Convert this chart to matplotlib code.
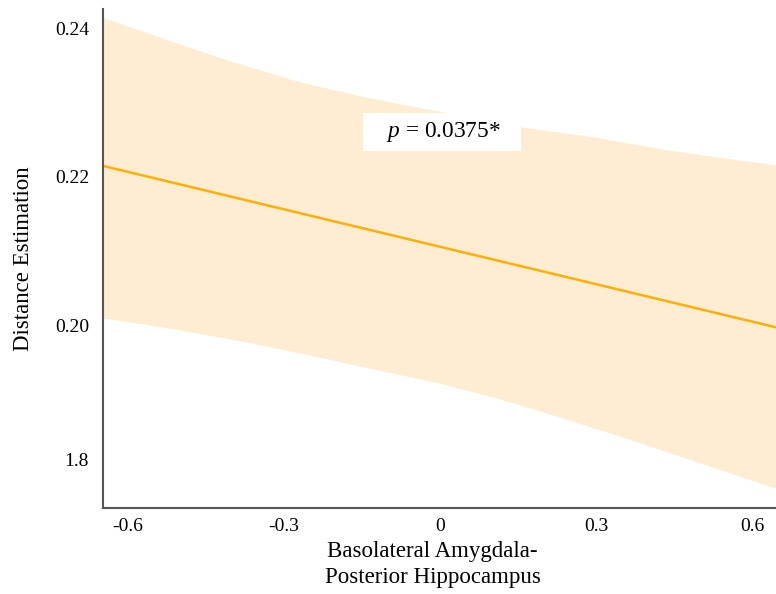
import matplotlib
matplotlib.use("Agg")
import matplotlib.pyplot as plt

plt.rcParams['font.family'] = ['Liberation Serif', 'DejaVu Serif']
plt.rcParams['mathtext.fontset'] = 'custom'
plt.rcParams['mathtext.rm'] = 'Liberation Serif'
plt.rcParams['mathtext.it'] = 'Liberation Serif:italic'

# --- data ---
x_fit = [-0.647, 0.645]
y_fit = [0.2215, 0.1997]

# confidence band, upper and lower edge (read separately)
x_upper = [-0.647, -0.524, -0.397, -0.269, -0.140, 0.0, 0.167, 0.301, 0.428, 0.557, 0.645]
band_upper = [0.2415, 0.2385, 0.2355, 0.2328, 0.2307, 0.2288, 0.2266, 0.2253, 0.2237, 0.2224, 0.2216]
x_lower = [-0.647, -0.524, -0.397, -0.269, -0.140, 0.0, 0.109, 0.236, 0.365, 0.493, 0.645]
band_lower = [0.2009, 0.1996, 0.1980, 0.1962, 0.1942, 0.1921, 0.1901, 0.1874, 0.1845, 0.1815, 0.1779]

x_ticks = [-0.6, -0.3, 0, 0.3, 0.6]
x_ticklabels = ['-0.6', '-0.3', '0', '0.3', '0.6']
y_ticks = [0.24, 0.22, 0.20, 0.1818]
y_ticklabels = ['0.24', '0.22', '0.20', '1.8']

p_text = r'   $p$ = 0.0375*   '

# --- figure ---
fig = plt.figure(figsize=(7.76, 5.94), dpi=100)
ax = fig.add_axes([0.1327, 0.1448, 0.8673, 0.8402])

ax.fill(x_upper + x_lower[::-1], band_upper + band_lower[::-1],
        color='#FEEDD3', linewidth=0)
ax.plot(x_fit, y_fit, color='#FFB000', linewidth=1.8)

ax.set_xlim(-0.647, 0.645)
ax.set_ylim(0.1753, 0.2427)

ax.set_xticks(x_ticks)
ax.set_xticklabels(x_ticklabels)
ax.set_yticks(y_ticks)
ax.set_yticklabels(y_ticklabels)
ax.tick_params(axis='both', length=0, labelsize=14)
ax.tick_params(axis='y', pad=10)
ax.tick_params(axis='x', pad=7)

for side in ['top', 'right']:
    ax.spines[side].set_visible(False)
for side in ['left', 'bottom']:
    ax.spines[side].set_color('#555555')
    ax.spines[side].set_linewidth(1.5)

ax.set_ylabel('Distance Estimation', fontsize=16.5)
ax.yaxis.set_label_coords(-0.103, 0.5)
ax.set_xlabel('Basolateral Amygdala-\nPosterior Hippocampus', fontsize=16.5,
              linespacing=1.3)
ax.xaxis.set_label_coords(0.49, -0.066)

ax.text(0.004, 0.2261, p_text, fontsize=16.8, ha='center', va='center',
        bbox=dict(boxstyle='square,pad=0.3', facecolor='white', edgecolor='none'))

fig.savefig('out.png', dpi=100)
